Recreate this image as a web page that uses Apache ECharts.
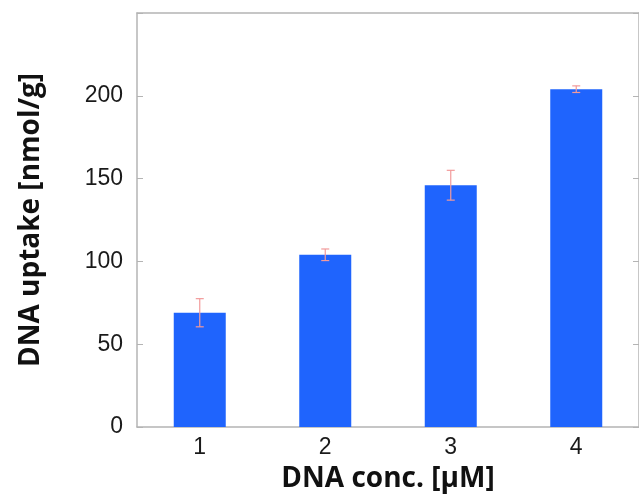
<!DOCTYPE html>
<html>
<head>
<meta charset="utf-8">
<script src="https://cdn.jsdelivr.net/npm/echarts@6/dist/echarts.min.js"></script>
<style>
  html, body { margin: 0; padding: 0; background: #fff; }
  #chart { width: 639px; height: 499px; }
</style>
</head>
<body>
<div id="chart"></div>
<script>
// data
const categories = ['1', '2', '3', '4'];
const uptake = [69, 104, 146, 204];
const uptakeErr = [8.5, 3.5, 9, 2];
const yTicks = [0, 50, 100, 150, 200, 250];

const chart = echarts.init(document.getElementById('chart'));

const axisGray = '#b4b4b4';
const labelFont = { color: '#1a1a1a', fontSize: 23, fontFamily: 'Liberation Sans, Arial, sans-serif' };
const nameFont = { color: '#111', fontSize: 28, fontWeight: 'bold', fontFamily: 'Open Sans, sans-serif' };

// error bar: vertical line with small caps
function renderErr(params, api) {
  const x = api.value(0);
  const lo = api.coord([x, api.value(1)]);
  const hi = api.coord([x, api.value(2)]);
  const cap = 4;
  const style = { stroke: '#f29a9a', lineWidth: 1.2 };
  return {
    type: 'group',
    children: [
      { type: 'line', shape: { x1: lo[0], y1: lo[1], x2: hi[0], y2: hi[1] }, style },
      { type: 'line', shape: { x1: hi[0] - cap, y1: hi[1], x2: hi[0] + cap, y2: hi[1] }, style },
      { type: 'line', shape: { x1: lo[0] - cap, y1: lo[1], x2: lo[0] + cap, y2: lo[1] }, style }
    ]
  };
}

const errData = uptake.map((v, i) => [i, v - uptakeErr[i], v + uptakeErr[i]]);

const option = {
  animation: false,
  backgroundColor: '#fff',
  grid: { left: 137, top: 13, width: 504, height: 414, containLabel: false },
  xAxis: [
    {
      type: 'category',
      data: categories,
      position: 'bottom',
      axisLine: { onZero: false, lineStyle: { color: axisGray, width: 1.5 } },
      axisTick: { inside: true, length: 6, lineStyle: { color: axisGray } },
      axisLabel: Object.assign({ margin: 9 }, labelFont),
      name: 'DNA conc. [μM]',
      nameLocation: 'middle',
      nameGap: 38,
      nameTextStyle: nameFont
    },
    {
      type: 'category',
      data: categories,
      position: 'top',
      axisLine: { onZero: false, lineStyle: { color: axisGray, width: 1.5 } },
      axisTick: { inside: true, length: 6, lineStyle: { color: axisGray } },
      axisLabel: { show: false }
    }
  ],
  yAxis: [
    {
      type: 'value',
      min: yTicks[0],
      max: yTicks[yTicks.length - 1],
      interval: 50,
      position: 'left',
      axisLine: { show: true, lineStyle: { color: axisGray, width: 1.5 } },
      axisTick: { show: true, inside: true, length: 6, lineStyle: { color: axisGray } },
      splitLine: { show: false },
      axisLabel: Object.assign({
        margin: 14,
        formatter: v => (v === 250 ? '' : String(v))
      }, labelFont),
      name: 'DNA uptake [nmol/g]',
      nameLocation: 'middle',
      nameGap: 92,
      nameTextStyle: nameFont
    },
    {
      type: 'value',
      min: yTicks[0],
      max: yTicks[yTicks.length - 1],
      interval: 50,
      position: 'right',
      axisLine: { show: true, lineStyle: { color: axisGray, width: 1.5 } },
      axisTick: { show: true, inside: true, length: 6, lineStyle: { color: axisGray } },
      splitLine: { show: false },
      axisLabel: { show: false }
    }
  ],
  series: [
    {
      type: 'bar',
      data: uptake,
      barWidth: 52,
      itemStyle: { color: '#1f64fd' }
    },
    {
      type: 'custom',
      data: errData,
      renderItem: renderErr,
      z: 10
    }
  ]
};

chart.setOption(option);
</script>
</body>
</html>
